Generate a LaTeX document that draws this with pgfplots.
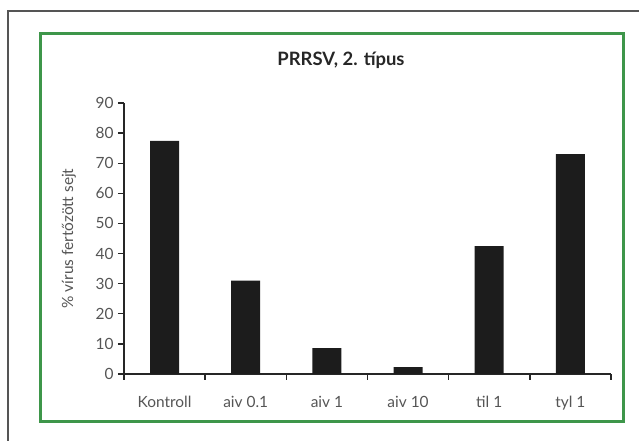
\documentclass[border=0pt]{standalone}
\usepackage{fontspec}
\setmainfont{Lato}
\usepackage{pgfplots}
\pgfplotsset{compat=1.18}
\definecolor{framegreen}{RGB}{62,150,74}
\definecolor{framegray}{RGB}{85,85,85}
\definecolor{labelgray}{RGB}{85,85,85}
\definecolor{barblack}{RGB}{28,28,28}
\begin{document}
\begin{tikzpicture}
\useasboundingbox (0,0) rectangle (639bp,441bp);
% page edge and green chart frame
\draw[framegray, line width=1.2bp] (8bp,0) -- (8bp,430bp) -- (639bp,430bp);
\draw[framegreen, line width=3bp] (40bp,19bp) rectangle (623bp,407bp);
\node[font=\bfseries\fontsize{18.5}{20}\selectfont, text=black!85, anchor=base]
  at (341bp,375bp) {PRRSV, 2. típus};
\begin{axis}[
  at={(124bp,67bp)}, anchor=south west,
  scale only axis, width=487bp, height=271bp,
  xmin=0, xmax=6, ymin=0, ymax=90,
  axis x line*=bottom, axis y line*=left,
  axis line style={-, draw=black!85, line width=1.4bp},
  tick align=outside, major tick length=6bp,
  tick style={draw=black!85, line width=1.4bp},
  ytick={0,10,...,90},
  xtick={0,...,6}, xticklabels={},
  extra x ticks={0.5,1.5,...,5.5},
  extra x tick labels={Kontroll,aiv 0.1,aiv 1,aiv 10,til 1,tyl 1},
  extra x tick style={major tick length=0pt, tick style={draw=none}},
  /pgf/number format/assume math mode=true,
  ticklabel style={font=\fontsize{15.5}{17}\selectfont, text=labelgray},
  xticklabel style={yshift=-19bp},
  yticklabel style={xshift=-1bp},
  ylabel={\% vírus fertőzött sejt},
  every axis y label/.style={at={(-55bp,135.5bp)}, rotate=90, anchor=center,
    font=\fontsize{15.5}{17}\selectfont, text=labelgray},
  clip=false,
]
\addplot[ybar, bar width=29bp, fill=barblack, draw=none] coordinates {
  (0.5,77.4) (1.5,31.0) (2.5,8.6) (3.5,2.3) (4.5,42.5) (5.5,73.0)
};
\end{axis}
\end{tikzpicture}
\end{document}
